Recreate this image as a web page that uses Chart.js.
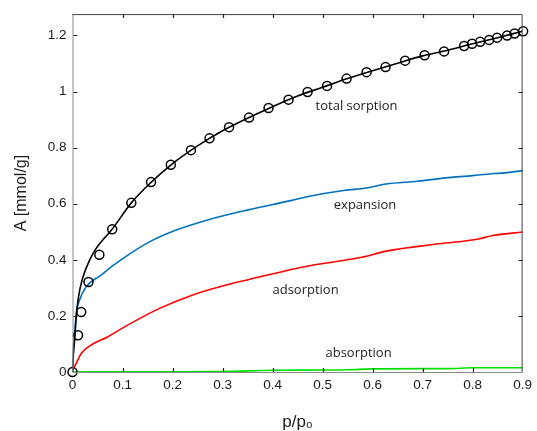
<!DOCTYPE html>
<html lang="en">
<head>
<meta charset="UTF-8">
<title>Sorption isotherm</title>
<script src="https://cdn.jsdelivr.net/npm/chart.js"></script>
<style>
  html, body { margin: 0; padding: 0; background: #fff; }
  #wrap { width: 537px; height: 431px; }
</style>
</head>
<body>
<div id="wrap"><canvas id="myChart"></canvas></div>
<script>
// measured total sorption (circles)
var measP = [0, 0.011, 0.0174, 0.032, 0.0537, 0.0794, 0.1176, 0.157, 0.1966, 0.2368, 0.274, 0.313, 0.353,
             0.392, 0.432, 0.470, 0.509, 0.548, 0.588, 0.626, 0.665, 0.704, 0.743, 0.783, 0.799,
             0.815, 0.833, 0.849, 0.869, 0.884, 0.901];
var measA = [0, 0.131, 0.214, 0.321, 0.418, 0.509, 0.603, 0.677, 0.739, 0.791, 0.833, 0.873, 0.907,
             0.941, 0.971, 0.998, 1.020, 1.046, 1.069, 1.087, 1.110, 1.129, 1.143, 1.162, 1.170,
             1.177, 1.184, 1.192, 1.200, 1.207, 1.215];

// model curves
var totalP = [0, 0.002, 0.0043, 0.0075, 0.012, 0.021, 0.034, 0.047, 0.08, 0.1176, 0.157, 0.1966, 0.25, 0.3,
              0.35, 0.4, 0.45, 0.5, 0.55, 0.6, 0.65, 0.7, 0.75, 0.8, 0.85, 0.9];
var totalA = [0, 0.07, 0.114, 0.197, 0.268, 0.339, 0.398, 0.44, 0.511, 0.603, 0.676, 0.738, 0.806, 0.86,
              0.905, 0.946, 0.984, 1.015, 1.046, 1.074, 1.101, 1.127, 1.147, 1.17, 1.192, 1.215];

var expP = [0, 0.0015, 0.0043, 0.0075, 0.014, 0.027, 0.057, 0.08, 0.11, 0.153, 0.206, 0.272, 0.351, 0.436,
            0.469, 0.542, 0.588, 0.627, 0.69, 0.746, 0.8, 0.838, 0.851, 0.9];
var expA = [0, 0.07, 0.137, 0.209, 0.256, 0.303, 0.345, 0.378, 0.416, 0.463, 0.505, 0.543, 0.578, 0.611,
            0.625, 0.647, 0.656, 0.670, 0.680, 0.692, 0.700, 0.707, 0.708, 0.718];

var adsP = [0, 0.003, 0.0075, 0.0174, 0.037, 0.07, 0.11, 0.173, 0.239, 0.305, 0.351, 0.469, 0.581, 0.627,
            0.733, 0.812, 0.838, 0.9];
var adsA = [0, 0.015, 0.031, 0.066, 0.096, 0.125, 0.167, 0.226, 0.274, 0.309, 0.329, 0.377, 0.410, 0.431,
            0.457, 0.474, 0.486, 0.499];

var absP = [0, 0.15, 0.3, 0.4, 0.5, 0.55, 0.6, 0.7, 0.75, 0.8, 0.9];
var absA = [0, 0.001, 0.002, 0.006, 0.007, 0.008, 0.011, 0.012, 0.012, 0.015, 0.015];

var xTicks = [0, 0.1, 0.2, 0.3, 0.4, 0.5, 0.6, 0.7, 0.8, 0.9];
var yTicks = [0, 0.2, 0.4, 0.6, 0.8, 1, 1.2];

// curve labels, anchored in data units
var curveNames = ['total sorption', 'expansion', 'adsorption', 'absorption'];
var nameP = [0.568, 0.585, 0.466, 0.572];
var nameA = [0.949, 0.593, 0.292, 0.068];

function pts(xs, ys) {
  return xs.map(function (x, i) { return { x: x, y: ys[i] }; });
}

function curve(xs, ys, color) {
  return {
    data: pts(xs, ys),
    showLine: true,
    borderColor: color,
    borderWidth: 1.6,
    pointRadius: 0,
    cubicInterpolationMode: 'monotone',
    fill: false
  };
}

// box around the plot with inward ticks, plus the curve names
var boxPlugin = {
  id: 'box',
  afterDatasetsDraw: function (chart) {
    var ctx = chart.ctx, a = chart.chartArea;
    var xs = chart.scales.x, ys = chart.scales.y;
    ctx.save();
    ctx.lineWidth = 1;
    ctx.strokeStyle = '#8a8a8a';
    ctx.beginPath();
    ctx.moveTo(a.left + 0.5, a.top);
    ctx.lineTo(a.left + 0.5, a.bottom + 0.5);
    ctx.lineTo(a.right, a.bottom + 0.5);
    ctx.stroke();
    ctx.strokeStyle = '#444';
    ctx.beginPath();
    ctx.moveTo(a.left, a.top + 0.5);
    ctx.lineTo(a.right - 0.5, a.top + 0.5);
    ctx.lineTo(a.right - 0.5, a.bottom);
    ctx.stroke();

    ctx.strokeStyle = '#222';
    ctx.lineWidth = 1.2;
    ctx.beginPath();
    xTicks.forEach(function (v) {
      if (v <= 0 || v >= 0.9) return;
      var px = Math.round(xs.getPixelForValue(v)) + 0.5;
      ctx.moveTo(px, a.bottom); ctx.lineTo(px, a.bottom - 4);
      ctx.moveTo(px, a.top); ctx.lineTo(px, a.top + 4);
    });
    yTicks.forEach(function (v) {
      if (v <= 0) return;
      var py = Math.round(ys.getPixelForValue(v)) + 0.5;
      ctx.moveTo(a.left + 1, py); ctx.lineTo(a.left + 5, py);
      ctx.moveTo(a.right, py); ctx.lineTo(a.right - 4, py);
    });
    ctx.stroke();

    ctx.fillStyle = '#222';
    ctx.font = '13px "Open Sans"';
    ctx.textAlign = 'center';
    ctx.textBaseline = 'middle';
    curveNames.forEach(function (t, i) {
      ctx.fillText(t, xs.getPixelForValue(nameP[i]), ys.getPixelForValue(nameA[i]));
    });
    ctx.restore();
  }
};

var ctx = document.getElementById('myChart').getContext('2d');

var measured = {
  data: pts(measP, measA),
  showLine: false,
  pointStyle: 'circle',
  pointRadius: 4.5,
  pointBorderWidth: 1.5,
  pointBorderColor: '#000',
  pointBackgroundColor: 'rgba(0,0,0,0)',
  clip: false
};

var myChart = new Chart(ctx, {
  type: 'scatter',
  data: {
    datasets: [
      measured,
      curve(totalP, totalA, '#000000'),
      curve(expP, expA, '#0072bd'),
      curve(adsP, adsA, '#ff0000'),
      curve(absP, absA, '#00e000')
    ]
  },
  options: {
    responsive: true,
    maintainAspectRatio: false,
    animation: false,
    devicePixelRatio: 1,
    layout: { padding: { top: 13, right: 9, left: 0, bottom: 0 } },
    plugins: { legend: { display: false }, tooltip: { enabled: false } },
    scales: {
      x: {
        type: 'linear',
        min: 0,
        max: 0.9,
        afterBuildTicks: function (s) { s.ticks = xTicks.map(function (v) { return { value: v }; }); },
        afterFit: function (s) { s.height = 59; },
        grid: { display: false, drawTicks: false },
        border: { display: false },
        ticks: {
          padding: 5,
          color: '#1a1a1a',
          font: { family: '"Liberation Sans", Arial', size: 13.5 },
          maxRotation: 0,
          callback: function (v) { return String(+v.toFixed(2)); }
        },
        title: {
          display: true,
          text: 'p/p\u2080',
          color: '#1a1a1a',
          font: { family: '"Liberation Sans", Arial', size: 17 },
          padding: { top: 0, bottom: -2 }
        }
      },
      y: {
        type: 'linear',
        min: 0,
        max: 1.276,
        afterBuildTicks: function (s) { s.ticks = yTicks.map(function (v) { return { value: v }; }); },
        afterFit: function (s) { s.width = 72.5; },
        grid: { display: false, drawTicks: false },
        border: { display: false },
        ticks: {
          padding: 6,
          color: '#1a1a1a',
          font: { family: '"Liberation Sans", Arial', size: 13.5 },
          callback: function (v) { return String(+v.toFixed(2)); }
        },
        title: {
          display: true,
          text: 'A [mmol/g]',
          color: '#1a1a1a',
          font: { family: '"Liberation Sans", Arial', size: 16 },
          padding: { top: 12, bottom: 0 }
        }
      }
    }
  },
  plugins: [boxPlugin]
});
</script>
</body>
</html>
